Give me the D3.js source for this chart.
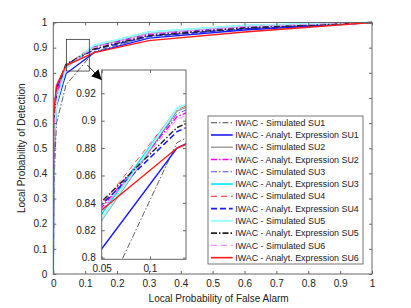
<!DOCTYPE html>
<html><head><meta charset="utf-8">
<script src="https://cdn.jsdelivr.net/npm/d3@7"></script>
<style>body{margin:0;background:#fff}svg{display:block}text{font-family:"Liberation Sans",Arial,sans-serif;fill:#222}</style>
</head><body><svg id="c" width="411" height="308"></svg>
<script>
const pfa = [0, 0.001, 0.01, 0.04, 0.128, 0.3, 0.6, 1];
const simSU1 = [0, 0.33, 0.60, 0.752, 0.884, 0.945, 0.975, 1];
const anaSU1 = [0, 0.45, 0.67, 0.797, 0.880, 0.938, 0.970, 1];
const simSU2 = [0, 0.55, 0.72, 0.817, 0.907, 0.958, 0.985, 1];
const anaSU2 = [0, 0.55, 0.72, 0.828, 0.903, 0.952, 0.982, 1];
const simSU3 = [0, 0.52, 0.70, 0.825, 0.905, 0.955, 0.984, 1];
const anaSU3 = [0, 0.50, 0.68, 0.822, 0.909, 0.962, 0.988, 1];
const simSU4 = [0, 0.58, 0.73, 0.830, 0.908, 0.960, 0.987, 1];
const anaSU4 = [0, 0.57, 0.73, 0.832, 0.892, 0.945, 0.975, 1];
const simSU5 = [0, 0.50, 0.68, 0.818, 0.909, 0.962, 0.988, 1];
const anaSU5 = [0, 0.60, 0.74, 0.834, 0.895, 0.948, 0.978, 1];
const simSU6 = [0, 0.56, 0.72, 0.826, 0.901, 0.955, 0.985, 1];
const anaSU6 = [0, 0.64, 0.75, 0.829, 0.880, 0.928, 0.962, 1];
const seriesNames = ["IWAC - Simulated SU1","IWAC - Analyt. Expression SU1","IWAC - Simulated SU2","IWAC - Analyt. Expression SU2","IWAC - Simulated SU3","IWAC - Analyt. Expression SU3","IWAC - Simulated SU4","IWAC - Analyt. Expression SU4","IWAC - Simulated SU5","IWAC - Analyt. Expression SU5","IWAC - Simulated SU6","IWAC - Analyt. Expression SU6"];
const seriesValues = [simSU1, anaSU1, simSU2, anaSU2, simSU3, anaSU3, simSU4, anaSU4, simSU5, anaSU5, simSU6, anaSU6];
const xTicks = [0,0.1,0.2,0.3,0.4,0.5,0.6,0.7,0.8,0.9,1];
const yTicks = [0,0.1,0.2,0.3,0.4,0.5,0.6,0.7,0.8,0.9,1];
const insetXTicks = [0.05, 0.1];
const insetYTicks = [0.8,0.82,0.84,0.86,0.88,0.9,0.92];
const zoomBox = {x0:0.041, x1:0.113, y0:0.807, y1:0.933};

const styles = [
 {c:"#4a4a4a", w:0.9, d:"6,2,1.5,2"},
 {c:"#1a1aff", w:1.4, d:null},
 {c:"#999999", w:1.2, d:null},
 {c:"#ff00ff", w:1.4, d:"6,2,1.5,2"},
 {c:"#4d4dff", w:0.9, d:"6,2,1.5,2"},
 {c:"#00e6ff", w:1.4, d:null},
 {c:"#ff5050", w:1.0, d:"6,4"},
 {c:"#1a1aff", w:1.5, d:"6,3"},
 {c:"#99ffff", w:1.8, d:null},
 {c:"#222222", w:1.4, d:"6,2,1.5,2"},
 {c:"#ff88ff", w:1.0, d:"6,4"},
 {c:"#ff1a1a", w:1.4, d:null}
];

const svg = d3.select("#c");
const M = {l:53.3, r:372, t:22.5, b:274};
const x = d3.scaleLinear().domain([0,1]).range([M.l, M.r]);
const y = d3.scaleLinear().domain([0,1]).range([M.b, M.t]);
const axCol = "#666";

svg.append("defs").append("clipPath").attr("id","mclip").append("rect")
  .attr("x",M.l).attr("y",M.t-2).attr("width",M.r-M.l).attr("height",M.b-M.t+2);

function addAxes(g, xs, ys, xt, yt, xfmt, yfmt, fs){
  const [xa,xb] = xs.range(), [ya,yb] = ys.range();
  g.append("g").attr("transform",`translate(0,${ya})`).call(d3.axisBottom(xs).tickValues(xt).tickSizeInner(-3).tickSizeOuter(0).tickPadding(6).tickFormat(xfmt))
    .call(s=>{s.select(".domain").remove(); s.selectAll("line").attr("stroke",axCol); s.selectAll("text").attr("font-size",fs).style("fill","#222");});
  g.append("g").attr("transform",`translate(0,${yb})`).call(d3.axisTop(xs).tickValues(xt).tickSizeInner(-3).tickSizeOuter(0).tickFormat(""))
    .call(s=>{s.select(".domain").remove(); s.selectAll("line").attr("stroke",axCol);});
  g.append("g").attr("transform",`translate(${xa},0)`).call(d3.axisLeft(ys).tickValues(yt).tickSizeInner(-3).tickSizeOuter(0).tickPadding(6).tickFormat(yfmt))
    .call(s=>{s.select(".domain").remove(); s.selectAll("line").attr("stroke",axCol); s.selectAll("text").attr("font-size",fs).style("fill","#222");});
  g.append("g").attr("transform",`translate(${xb},0)`).call(d3.axisRight(ys).tickValues(yt).tickSizeInner(-3).tickSizeOuter(0).tickFormat(""))
    .call(s=>{s.select(".domain").remove(); s.selectAll("line").attr("stroke",axCol);});
  g.append("rect").attr("x",xa).attr("y",yb).attr("width",xb-xa).attr("height",ya-yb)
    .attr("fill","none").attr("stroke",axCol).attr("stroke-width",1);
}

const fmt = d => d===0?"0":d===1?"1":d3.format(".1f")(d);

const mainLines = svg.append("g").attr("clip-path","url(#mclip)");
const line = d3.line().x((d,i)=>x(pfa[i])).y(d=>y(d));
seriesValues.forEach((vals,i)=>{
  mainLines.append("path").attr("d",line(vals)).attr("fill","none")
    .attr("stroke",styles[i].c).attr("stroke-width",styles[i].w)
    .attr("stroke-dasharray",styles[i].d);
});
addAxes(svg.append("g"), x, y, xTicks, yTicks, fmt, fmt, 10);

svg.append("rect").attr("x",x(zoomBox.x0)).attr("y",y(zoomBox.y1))
  .attr("width",x(zoomBox.x1)-x(zoomBox.x0)).attr("height",y(zoomBox.y0)-y(zoomBox.y1))
  .attr("fill","none").attr("stroke","#333").attr("stroke-width",0.8);

const I = {l:101.7, r:186, t:70, b:259.3};
const xi = d3.scaleLinear().domain([0.05, 0.1373]).range([I.l, I.r]);
const yi = d3.scaleLinear().domain([0.7988, 0.937]).range([I.b, I.t]);
svg.append("rect").attr("x",I.l).attr("y",I.t).attr("width",I.r-I.l).attr("height",I.b-I.t).attr("fill","#fff");
svg.select("defs").append("clipPath").attr("id","iclip").append("rect")
  .attr("x",I.l).attr("y",I.t).attr("width",I.r-I.l).attr("height",I.b-I.t);
const insetLines = svg.append("g").attr("clip-path","url(#iclip)");
const linei = d3.line().x((d,i)=>xi(pfa[i])).y(d=>yi(d));
seriesValues.forEach((vals,i)=>{
  insetLines.append("path").attr("d",linei(vals)).attr("fill","none")
    .attr("stroke",styles[i].c).attr("stroke-width",styles[i].w)
    .attr("stroke-dasharray",styles[i].d);
});
addAxes(svg.append("g"), xi, yi, insetXTicks, insetYTicks, d=>d===0.05?"0.05":"0.1", d=>d===0.8?"0.8":d===0.9?"0.9":d3.format(".2f")(d), 10);

svg.append("defs").append("marker").attr("id","ah").attr("viewBox","0 0 10 10").attr("refX",10).attr("refY",5)
  .attr("markerWidth",10).attr("markerHeight",10).attr("markerUnits","userSpaceOnUse").attr("orient","auto")
  .append("path").attr("d","M0,0 L10,5 L0,10 z").attr("fill","#000");
svg.append("line").attr("x1",x(zoomBox.x1)-2).attr("y1",y(zoomBox.y0)-6).attr("x2",I.l).attr("y2",I.t+10)
  .attr("stroke","#000").attr("stroke-width",0.8).attr("marker-end","url(#ah)");

const L = {x:208, y:116, w:155, h:148};
const lg = svg.append("g");
lg.append("rect").attr("x",L.x).attr("y",L.y).attr("width",L.w).attr("height",L.h)
  .attr("fill","#fff").attr("stroke","#555").attr("stroke-width",0.8);
seriesNames.forEach((n,i)=>{
  const yy = L.y + 6.7 + i*12.27;
  lg.append("line").attr("x1",L.x+3).attr("x2",L.x+24.7).attr("y1",yy).attr("y2",yy)
    .attr("stroke",styles[i].c).attr("stroke-width",styles[i].w+0.2).attr("stroke-dasharray",styles[i].d);
  lg.append("text").attr("x",L.x+27.3).attr("y",yy).attr("dy","0.35em").attr("font-size",8.9).text(n);
});

svg.append("text").attr("x",(M.l+M.r)/2+6).attr("y",302).attr("text-anchor","middle").attr("font-size",10).text("Local Probability of False Alarm");
svg.append("text").attr("transform",`translate(25,${(M.t+M.b)/2}) rotate(-90)`).attr("text-anchor","middle").attr("font-size",10).text("Local Probability of Detection");
</script></body></html>
